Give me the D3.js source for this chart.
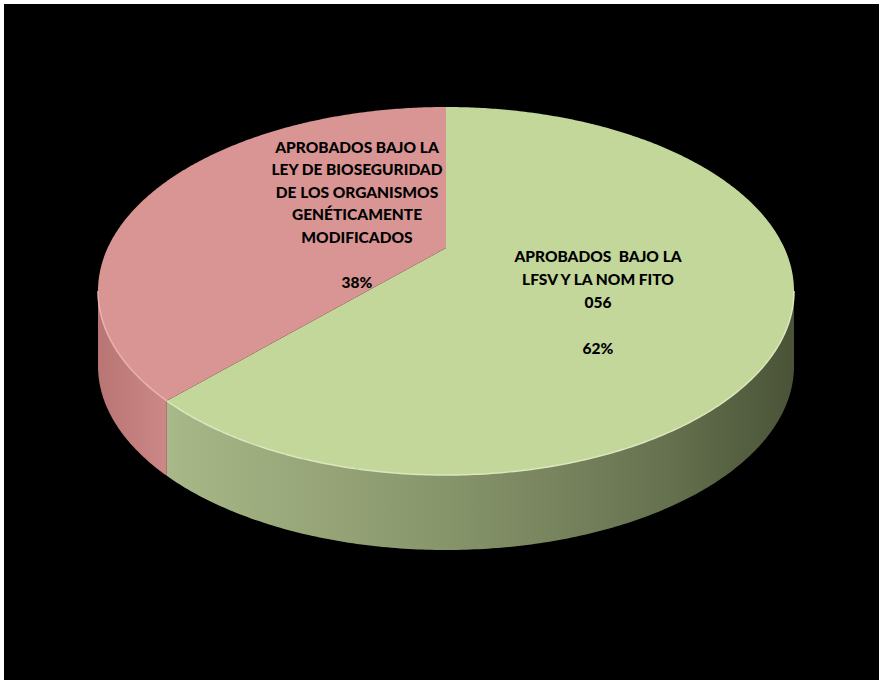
<!DOCTYPE html>
<html>
<head>
<meta charset="utf-8">
<script src="https://cdn.jsdelivr.net/npm/d3@7"></script>
<style>
  html, body { margin: 0; padding: 0; background: #ffffff; }
  svg { display: block; }
</style>
</head>
<body>
<svg id="svg"></svg>
<script>
// data (clockwise from 12 o'clock)
const categories = ["LFSV / NOM FITO 056", "Ley de Bioseguridad OGM"];
const values = [62, 38];
const percentLabels = ["62%", "38%"];
const labelLines = [
    ["APROBADOS\u00a0\u00a0BAJO LA", "LFSV Y LA NOM FITO", "056", "", "62%"],
    ["APROBADOS BAJO LA", "LEY DE BIOSEGURIDAD", "DE LOS ORGANISMOS", "GENÉTICAMENTE", "MODIFICADOS", "", "38%"]
];

const width = 879;
const height = 680;

// outline of the top face as it appears on screen, and the pie centre
const topY = 107, frontY = 475, leftX = 98, rightX = 794;
const centreY = 248;
const depth = 75;

// a simple perspective (homography) that maps the unit disc onto that outline
const cx = (leftX + rightX) / 2;
const up = centreY - topY, down = frontY - centreY;
const k = (down - up) / (down + up);
const B = up * (1 + k);
const A = (rightX - leftX) / 2 * Math.sqrt(1 - k * k);

const topColors = ["#c4d79b", "#d99594"];
const rimColors = ["#dbe7bd", "#e8b3b2"];
// where Excel put each label, offset from the pie centre
const labelPos = [[152, 54], [-89, -34]];
const lineStep = [23, 22.5];

let svg = d3.select("#svg").attr("width", width).attr("height", height);

svg.append("rect")
    .attr("x", 4).attr("y", 4)
    .attr("width", width - 4).attr("height", height - 4)
    .attr("fill", "#000000");

const defs = svg.append("defs");

// side wall shading, lighter on the left
let gGreen = defs.append("linearGradient").attr("id", "sideGreen")
    .attr("gradientUnits", "userSpaceOnUse")
    .attr("x1", leftX).attr("x2", rightX).attr("y1", 0).attr("y2", 0);
gGreen.append("stop").attr("offset", "0").attr("stop-color", "#b4c493");
gGreen.append("stop").attr("offset", "0.12").attr("stop-color", "#a7b686");
gGreen.append("stop").attr("offset", "0.5").attr("stop-color", "#87956b");
gGreen.append("stop").attr("offset", "0.8").attr("stop-color", "#687451");
gGreen.append("stop").attr("offset", "1").attr("stop-color", "#4a5337");

let gRed = defs.append("linearGradient").attr("id", "sideRed")
    .attr("gradientUnits", "userSpaceOnUse")
    .attr("x1", leftX).attr("x2", leftX + 85).attr("y1", 0).attr("y2", 0);
gRed.append("stop").attr("offset", "0").attr("stop-color", "#b87574");
gRed.append("stop").attr("offset", "1").attr("stop-color", "#d18c8b");

const sideFills = ["url(#sideGreen)", "url(#sideRed)"];

// angle a: 0 at 12 o'clock, clockwise
function proj(a, dy) {
    let u = Math.sin(a), v = -Math.cos(a);
    let d = 1 - k * v;
    return [cx + A * u / d, centreY + B * v / d + dy];
}

function arcPoints(a0, a1, dy) {
    let pts = [];
    let n = Math.max(2, Math.ceil((a1 - a0) / 0.01));
    for (let i = 0; i <= n; i++) {
        pts.push(proj(a0 + (a1 - a0) * i / n, dy));
    }
    return pts;
}

const pie = d3.pie().sort(null).value(d => d);
const arcs = pie(values);

const line = d3.line();

// visible part of the side wall lies between the two vertical tangents
const sideStart = Math.PI / 2 + Math.asin(k);
const sideEnd = Math.PI * 1.5 - Math.asin(k);

arcs.forEach((d, i) => {
    let a0 = Math.max(d.startAngle, sideStart);
    let a1 = Math.min(d.endAngle, sideEnd);
    if (a1 <= a0) return;
    let topEdge = arcPoints(a0, a1, 0);
    let bottomEdge = arcPoints(a0, a1, depth).reverse();
    svg.append("path")
        .attr("class", "side")
        .attr("d", line(topEdge.concat(bottomEdge)) + "Z")
        .attr("fill", sideFills[i]);
});

// top faces
arcs.forEach((d, i) => {
    let pts = [[cx, centreY]].concat(arcPoints(d.startAngle, d.endAngle, 0));
    svg.append("path")
        .attr("class", "top")
        .attr("d", line(pts) + "Z")
        .attr("fill", topColors[i]);
    // light rim along the front edge
    let a0 = Math.max(d.startAngle, sideStart);
    let a1 = Math.min(d.endAngle, sideEnd);
    if (a1 > a0) {
        svg.append("path")
            .attr("d", line(arcPoints(a0, a1, 0)))
            .attr("fill", "none")
            .attr("stroke", rimColors[i])
            .attr("stroke-width", 1.5);
    }
});

// labels
arcs.forEach((d, i) => {
    let lines = labelLines[i];
    let x = cx + labelPos[i][0];
    let yMid = centreY + labelPos[i][1];
    let y0 = yMid - (lines.length - 1) * lineStep[i] / 2;
    let t = svg.append("text")
        .attr("text-anchor", "middle")
        .attr("font-family", "Lato, 'Open Sans', sans-serif")
        .attr("font-weight", 900)
        .attr("font-size", "15.5px")
        .attr("fill", "#000000");
    lines.forEach((s, j) => {
        t.append("tspan")
            .attr("x", x)
            .attr("y", y0 + j * lineStep[i] + 6)
            .text(s);
    });
});
</script>
</body>
</html>
